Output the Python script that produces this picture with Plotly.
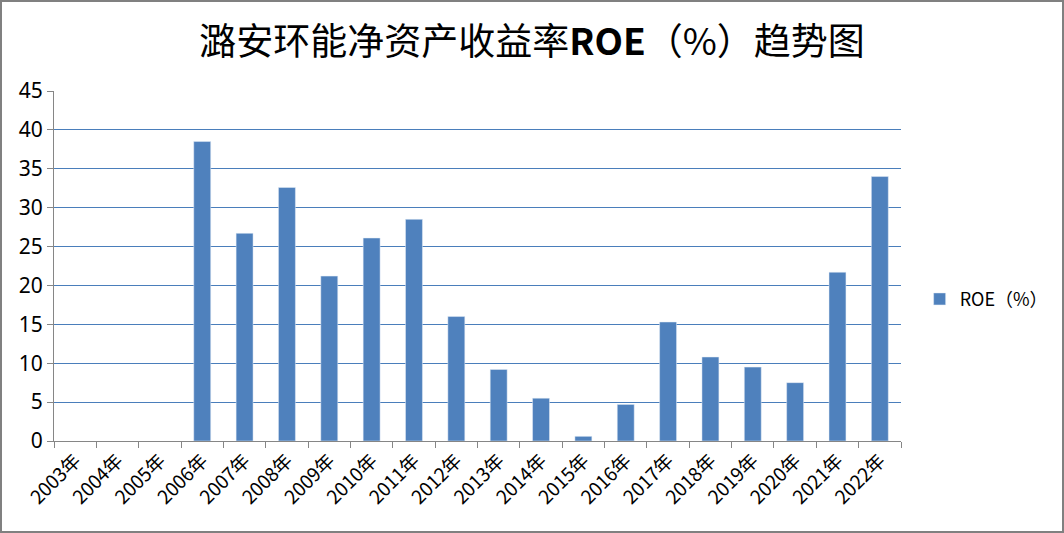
import plotly.graph_objects as go

# 年份与 ROE 数据（%）
years = ['2003年', '2004年', '2005年', '2006年', '2007年', '2008年', '2009年',
         '2010年', '2011年', '2012年', '2013年', '2014年', '2015年', '2016年',
         '2017年', '2018年', '2019年', '2020年', '2021年', '2022年']
roe = [None, None, None, 38.5, 26.7, 32.6, 21.2, 26.1, 28.5, 16.0, 9.2,
       5.5, 0.6, 4.7, 15.3, 10.8, 9.5, 7.5, 21.7, 34.0]

W, H = 1064, 533
ml, mr, mt, mb = 54, 163, 91, 92
pw, ph = W - ml - mr, H - mt - mb

fig = go.Figure()
fig.add_trace(go.Bar(x=years, y=roe, name='ROE（%）', marker_color='#4F81BD'))

fig.update_layout(
    width=W, height=H,
    margin=dict(l=ml, r=mr, t=mt, b=mb, autoexpand=False),
    paper_bgcolor='white', plot_bgcolor='white',
    font=dict(family='Noto Sans CJK SC, Noto Sans, sans-serif', color='black'),
    title=dict(text='潞安环能净资产收益率<b>ROE</b>（%）趋势图', x=0.5, xanchor='center',
               y=0.921, yanchor='middle', font=dict(size=37, color='black')),
    bargap=0.6,
    showlegend=True,
    legend=dict(x=1.022, y=0.405, xanchor='left', yanchor='middle', itemwidth=30,
                font=dict(size=18, family='Noto Sans CJK SC, Noto Sans, sans-serif')),
)
fig.update_xaxes(type='category', tickangle=-45, tickson='boundaries', ticks='outside',
                 ticklen=6, tickcolor='#868686', showline=True, linecolor='#868686',
                 tickfont=dict(size=19, family='Noto Sans CJK SC'), showgrid=False,
                 automargin=False)
fig.update_yaxes(range=[0, 45], dtick=5, ticks='outside', ticklen=6, tickcolor='#868686',
                 showline=True, linecolor='#868686', gridcolor='#4A7EBB', gridwidth=1,
                 tickfont=dict(size=21, family='Noto Sans, sans-serif'), zeroline=False,
                 automargin=False)

# 外边框
fig.add_shape(type='rect', xref='paper', yref='paper',
              x0=-(ml - 1) / pw, x1=(pw + mr - 1) / pw,
              y0=-(mb - 1) / ph, y1=(ph + mt - 1) / ph,
              line=dict(color='#808080', width=2))

fig.write_html('out.html', config={'displayModeBar': False},
               post_script="document.body.style.margin='0';")
